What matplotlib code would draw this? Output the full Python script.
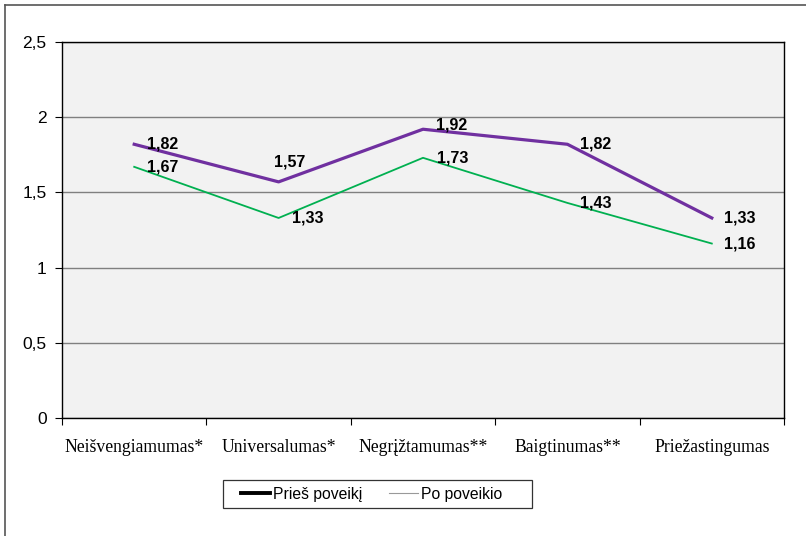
import matplotlib.pyplot as plt
from matplotlib.lines import Line2D
from matplotlib.patches import Rectangle

categories = ['Neišvengiamumas*', 'Universalumas*', 'Negrįžtamumas**', 'Baigtinumas**', 'Priežastingumas']
before = [1.82, 1.57, 1.92, 1.82, 1.33]
after = [1.67, 1.33, 1.73, 1.43, 1.16]
before_label = 'Prieš poveikį'
after_label = 'Po poveikio'

# label offsets in points (dx, dy)
before_offsets = [(9, 0), (-3, 14), (9, 3), (9, 0), (9, 0)]
after_offsets = [(9, 0), (10, 0), (10, 0), (9, 0), (9, 0)]

W, H = 806, 536
fig = plt.figure(figsize=(W / 100, H / 100), dpi=100)

# outer frame: only top and left edges visible
fig.add_artist(Line2D([4.5 / W, 1.0], [1 - 4.5 / H, 1 - 4.5 / H], transform=fig.transFigure,
                      color='#555555', linewidth=1.2))
fig.add_artist(Line2D([4.5 / W, 4.5 / W], [0.0, 1 - 4.5 / H], transform=fig.transFigure,
                      color='#555555', linewidth=1.2))

ax = fig.add_axes([62 / W, 1 - 418 / H, 722 / W, 376 / H])
ax.set_facecolor('#F2F2F2')

x = list(range(len(categories)))
ax.plot(x, before, color='#7030A0', linewidth=2.3, zorder=3)
ax.plot(x, after, color='#00B050', linewidth=1.3, zorder=3)

for i, v in enumerate(before):
    ax.annotate(f'{v:.2f}'.replace('.', ','), (i, v), xytext=before_offsets[i],
                textcoords='offset points', ha='left', va='center',
                fontsize=11.5, fontweight='bold', family='Liberation Sans', zorder=4)
for i, v in enumerate(after):
    ax.annotate(f'{v:.2f}'.replace('.', ','), (i, v), xytext=after_offsets[i],
                textcoords='offset points', ha='left', va='center',
                fontsize=11.5, fontweight='bold', family='Liberation Sans', zorder=4)

ax.set_xlim(-0.5, len(categories) - 0.5)
ax.set_ylim(0, 2.5)
yt = [0, 0.5, 1, 1.5, 2, 2.5]
ax.set_yticks(yt)
ax.set_yticklabels([f'{t:g}'.replace('.', ',') for t in yt], family='Liberation Sans', fontsize=12.5)
ax.yaxis.grid(True, color='#808080', linewidth=1.0)
ax.set_axisbelow(True)

ax.set_xticks([i - 0.5 for i in range(len(categories) + 1)])
ax.set_xticklabels([])
ax.set_xticks(x, minor=True)
ax.set_xticklabels(categories, minor=True, family='Liberation Serif', fontsize=12.7)
ax.tick_params(axis='x', which='minor', length=0, pad=15)
ax.tick_params(axis='x', which='major', length=5, color='black')
ax.tick_params(axis='y', length=5, color='black', pad=6)

for s in ax.spines.values():
    s.set_color('black')
    s.set_linewidth(1.0)

# legend with a hand-placed frame
fig.patches.append(Rectangle((223 / W, 1 - 508 / H), 309 / W, 28 / H, transform=fig.transFigure,
                             fill=False, edgecolor='#333333', linewidth=0.9))
handles = [Line2D([], [], color='black', linewidth=2.8),
           Line2D([], [], color='#999999', linewidth=0.8)]
fig.legend(handles, [before_label, after_label], loc='center left',
           bbox_to_anchor=(241 / W, 1 - 494 / H), ncol=2, frameon=False,
           prop={'family': 'Liberation Sans', 'size': 11.3},
           handlelength=1.85, handletextpad=0.2, columnspacing=1.7,
           borderpad=0, borderaxespad=0)

fig.savefig('out.png', dpi=100)
